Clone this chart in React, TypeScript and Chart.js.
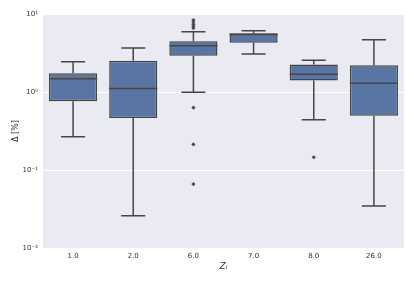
import React, { useEffect, useRef } from 'react';
import { Chart, registerables } from 'chart.js';

Chart.register(...registerables);

const categories = ['1.0', '2.0', '6.0', '7.0', '8.0', '26.0'];
const q1 = [0.76, 0.464, 2.92, 4.29, 1.4, 0.497];
const median = [1.48, 1.11, 3.92, 5.46, 1.69, 1.29];
const q3 = [1.74, 2.52, 4.47, 5.66, 2.26, 2.2];
const whiskerLow = [0.267, 0.026, 0.99, 3.07, 0.44, 0.0345];
const whiskerHigh = [2.45, 3.66, 5.93, 6.1, 2.55, 4.68];
const outlierCategories = ['6.0', '6.0', '6.0', '6.0', '6.0', '6.0', '6.0', '6.0', '8.0'];
const outlierValues = [8.38, 7.9, 7.4, 7.0, 6.6, 0.63, 0.213, 0.066, 0.146];
const yTickValues = [0.01, 0.1, 1, 10];
const yTickLabels = ['10⁻²', '10⁻¹', '10⁰', '10¹'];

const BOX_FILL = '#5875a4';
const EDGE = '#464646';
const FONT = 'DejaVu Sans';

const bgPlugin = {
  id: 'bg',
  beforeDraw(chart: any) {
    const { ctx, chartArea } = chart;
    ctx.save();
    ctx.fillStyle = '#eaeaf2';
    ctx.fillRect(chartArea.left, chartArea.top, chartArea.right - chartArea.left, chartArea.bottom - chartArea.top);
    ctx.restore();
  },
};

const boxPlugin = {
  id: 'boxparts',
  afterDatasetsDraw(chart: any) {
    const { ctx } = chart;
    const xs = chart.scales.x;
    const ys = chart.scales.y;
    const meta = chart.getDatasetMeta(0);
    ctx.save();
    ctx.strokeStyle = EDGE;
    ctx.lineWidth = 1.5;
    categories.forEach((c, i) => {
      const bar = meta.data[i] as any;
      const cx = xs.getPixelForValue(i);
      const halfBox = bar.width / 2;
      const halfCap = halfBox / 2;
      const yq1 = ys.getPixelForValue(q1[i]);
      const yq3 = ys.getPixelForValue(q3[i]);
      const ym = ys.getPixelForValue(median[i]);
      const ylo = ys.getPixelForValue(whiskerLow[i]);
      const yhi = ys.getPixelForValue(whiskerHigh[i]);
      ctx.beginPath();
      ctx.moveTo(cx, yq3);
      ctx.lineTo(cx, yhi);
      ctx.moveTo(cx - halfCap, yhi);
      ctx.lineTo(cx + halfCap, yhi);
      ctx.moveTo(cx, yq1);
      ctx.lineTo(cx, ylo);
      ctx.moveTo(cx - halfCap, ylo);
      ctx.lineTo(cx + halfCap, ylo);
      ctx.moveTo(cx - halfBox, ym);
      ctx.lineTo(cx + halfBox, ym);
      ctx.stroke();
    });
    ctx.restore();
  },
};

export default function App() {
  const ref = useRef<HTMLCanvasElement>(null);
  useEffect(() => {
    document.body.style.margin = '0';
    const chart = new Chart(ref.current!, {
      type: 'bar',
      data: {
        labels: categories,
        datasets: [
          {
            type: 'bar',
            data: categories.map((_, i) => [q1[i], q3[i]]) as any,
            backgroundColor: BOX_FILL,
            borderColor: EDGE,
            borderWidth: 1.5,
            borderSkipped: false,
            barPercentage: 0.8,
            categoryPercentage: 1,
          },
          {
            type: 'scatter',
            data: outlierCategories.map((c, i) => ({ x: c, y: outlierValues[i] })) as any,
            pointStyle: 'rectRot',
            radius: 1.8,
            backgroundColor: EDGE,
            borderColor: EDGE,
            borderWidth: 0.5,
          } as any,
        ],
      },
      options: {
        responsive: false,
        animation: false,
        layout: { padding: { top: 14, right: 9, left: 0, bottom: 0 } },
        plugins: { legend: { display: false }, tooltip: { enabled: false } },
        scales: {
          x: {
            type: 'category',
            labels: categories,
            grid: { display: false, drawTicks: false },
            border: { display: false },
            ticks: { color: '#333', font: { family: FONT, size: 7 }, padding: 3.5, maxRotation: 0 },
            title: {
              display: true,
              text: 'Zᵢ',
              color: '#333',
              font: { family: FONT, size: 9, style: 'italic' },
              padding: { top: 0, bottom: 11.5 },
            },
            afterFit(scale: any) {
              scale.height = 36;
            },
          },
          y: {
            type: 'logarithmic',
            min: 0.01,
            max: 10,
            grid: { color: '#ffffff', lineWidth: 1, drawTicks: false },
            border: { display: false },
            afterBuildTicks(scale: any) {
              scale.ticks = yTickValues.map((v) => ({ value: v, major: true }));
            },
            ticks: {
              color: '#333',
              font: { family: FONT, size: 7 },
              padding: 5,
              callback: (v: any) => {
                const idx = yTickValues.findIndex((t) => Math.abs(t - v) < 1e-9 * Math.max(1, t));
                return idx >= 0 ? yTickLabels[idx] : '';
              },
            },
            title: {
              display: true,
              text: 'Δ [%]',
              color: '#333',
              font: { family: FONT, size: 8 },
              padding: { top: 11, bottom: 0 },
            },
            afterFit(scale: any) {
              scale.width = 43;
            },
          },
        },
      },
      plugins: [bgPlugin, boxPlugin],
    });
    return () => chart.destroy();
  }, []);
  return (
    <div style={{ width: 413, height: 284 }}>
      <canvas ref={ref} width={413} height={284} />
    </div>
  );
}
